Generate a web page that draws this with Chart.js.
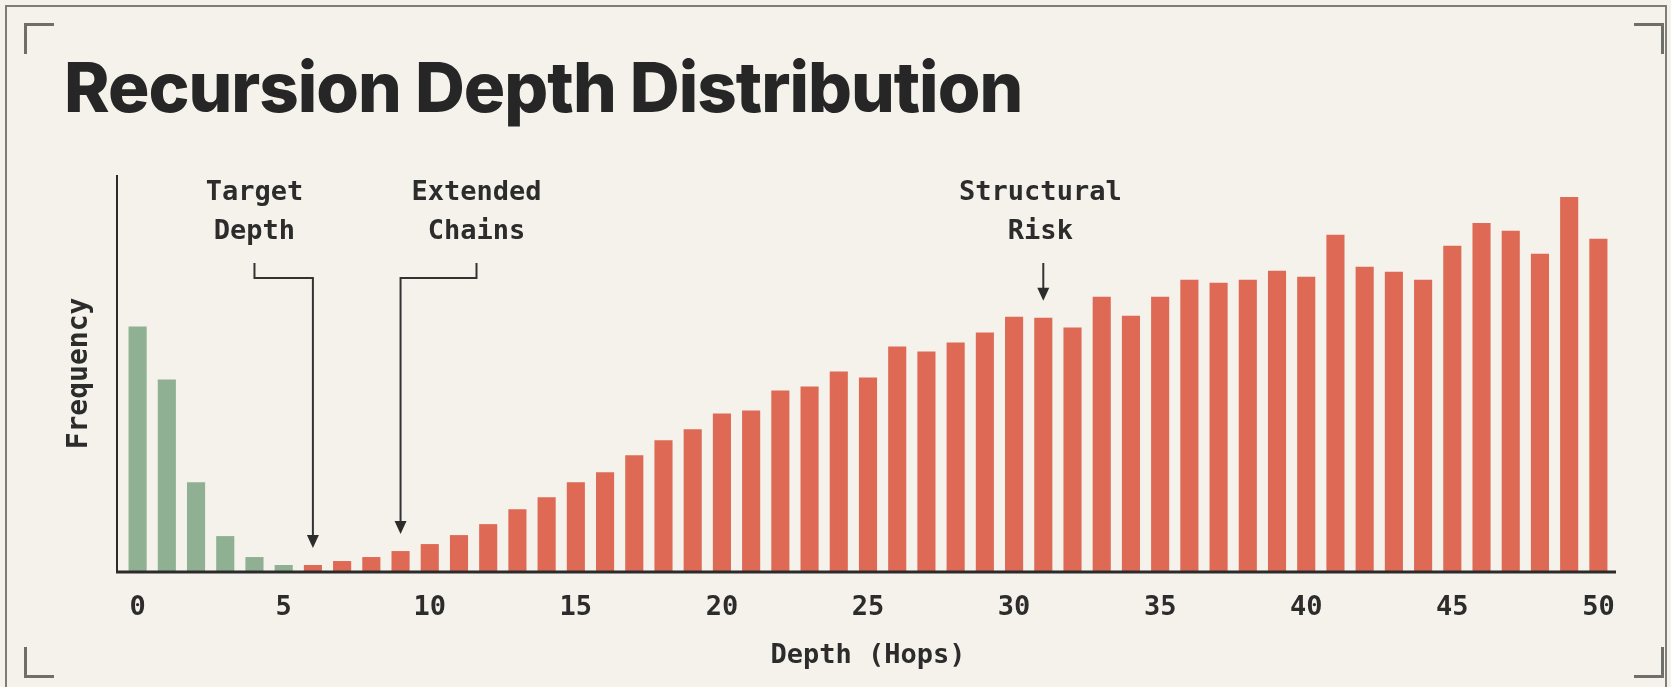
<!DOCTYPE html>
<html>
<head>
<meta charset="utf-8">
<script src="https://cdn.jsdelivr.net/npm/chart.js@4.4.1/dist/chart.umd.min.js"></script>
<style>
  html, body { margin: 0; padding: 0; background: #f4f2eb; }
  #wrap { position: relative; width: 1671px; height: 687px; overflow: hidden; }
  #frame { position: absolute; left: 5px; top: 5px; right: 4px; bottom: -10px;
           border-top: 2px solid #7c7c78; border-left: 2px solid #7c7c78; border-right: 2px solid #7c7c78; }
  .corner { position: absolute; width: 27px; height: 28px; border-color: #6e6e6a; border-style: solid; border-width: 0; }
  .tl { left: 24px; top: 23px; border-top-width: 3px; border-left-width: 3px; }
  .tr { left: 1634px; top: 23px; border-top-width: 3px; border-right-width: 3px; }
  .bl { left: 24px; top: 647px; border-bottom-width: 3px; border-left-width: 3px; }
  .br { left: 1634px; top: 647px; border-bottom-width: 3px; border-right-width: 3px; }
  h1 { position: absolute; left: 64px; top: 53px; margin: 0;
       font-family: Inter, "Liberation Sans", sans-serif; font-weight: 800;
       font-size: 69px; line-height: 69px; letter-spacing: -1px; color: #262626; }
  canvas { position: absolute; left: 0; top: 0; }
</style>
</head>
<body>
<div id="wrap">
  <div id="frame"></div>
  <div class="corner tl"></div><div class="corner tr"></div>
  <div class="corner bl"></div><div class="corner br"></div>
  <h1>Recursion Depth Distribution</h1>
  <canvas id="depthChart" width="1671" height="687"></canvas>
</div>
<script>
// depth in hops, 0..50
const depths = Array.from({ length: 51 }, (_, i) => String(i));
const frequency = [246, 193, 90, 36, 15, 7, 7, 11, 15, 21, 28, 37, 48, 63, 75, 90, 100, 117, 132, 143,
  159, 162, 182, 186, 201, 195, 226, 221, 230, 240, 256, 255, 245, 276, 257, 276, 293, 290, 293, 302,
  296, 338, 306, 301, 293, 327, 350, 342, 319, 376, 334];
const safeMaxDepth = 5;
const tickStep = 5;

// callouts: text centred at a category position, arrow pointing at a bar
const callouts = [
  { lines: ['Target', 'Depth'], textAt: 4, bar: 6, elbow: true },
  { lines: ['Extended', 'Chains'], textAt: 11.6, bar: 9, elbow: true },
  { lines: ['Structural', 'Risk'], textAt: 30.9, bar: 31, elbow: false }
];

const monoFont = "'DejaVu Sans Mono', monospace";
const ink = '#2c2c2c';

// axis lines sit a little left of the first bar, like the original
const axisPlugin = {
  id: 'axisLines',
  afterDatasetsDraw(chart) {
    const { ctx, chartArea } = chart;
    const x0 = chartArea.left - 6;
    ctx.save();
    ctx.strokeStyle = '#2b2b2b';
    ctx.lineWidth = 2;
    ctx.beginPath();
    ctx.moveTo(x0, chartArea.top);
    ctx.lineTo(x0, chartArea.bottom);
    ctx.stroke();
    ctx.lineWidth = 3;
    ctx.beginPath();
    ctx.moveTo(x0 - 1, chartArea.bottom);
    ctx.lineTo(chartArea.right + 3, chartArea.bottom);
    ctx.stroke();
    ctx.restore();
  }
};

const calloutPlugin = {
  id: 'callouts',
  afterDatasetsDraw(chart) {
    const { ctx, chartArea, scales } = chart;
    const x = scales.x, y = scales.y;
    ctx.save();
    ctx.fillStyle = ink;
    ctx.strokeStyle = '#333';
    ctx.lineWidth = 2;
    ctx.font = 'bold 27px ' + monoFont;
    ctx.textAlign = 'center';
    ctx.textBaseline = 'middle';
    callouts.forEach(c => {
      const tx = x.getPixelForValue(c.textAt);
      const bx = x.getPixelForValue(c.bar);
      const tipY = y.getPixelForValue(frequency[c.bar]) - 17;
      c.lines.forEach((line, i) => ctx.fillText(line, tx, chartArea.top + 18 + i * 39));
      const startY = chartArea.top + 88;
      ctx.beginPath();
      if (c.elbow) {
        const elbowY = chartArea.top + 103;
        ctx.moveTo(tx, startY);
        ctx.lineTo(tx, elbowY);
        ctx.lineTo(bx, elbowY);
        ctx.lineTo(bx, tipY - 10);
      } else {
        ctx.moveTo(bx, startY);
        ctx.lineTo(bx, tipY - 10);
      }
      ctx.stroke();
      ctx.beginPath();
      ctx.moveTo(bx, tipY);
      ctx.lineTo(bx - 6, tipY - 13);
      ctx.lineTo(bx + 6, tipY - 13);
      ctx.closePath();
      ctx.fill();
    });
    ctx.restore();
  }
};

new Chart(document.getElementById('depthChart'), {
  type: 'bar',
  data: {
    labels: depths,
    datasets: [{
      data: frequency,
      backgroundColor: depths.map((d, i) => i <= safeMaxDepth ? '#8fb092' : '#de6a55'),
      borderWidth: 0,
      barPercentage: 0.62,
      categoryPercentage: 1
    }]
  },
  options: {
    responsive: false,
    animation: false,
    layout: { padding: { top: 175, right: 58, left: 0, bottom: 0 } },
    plugins: { legend: { display: false }, tooltip: { enabled: false } },
    scales: {
      x: {
        grid: { display: false, drawTicks: false },
        border: { display: false },
        ticks: {
          autoSkip: false, maxRotation: 0, padding: 20, color: ink,
          font: { family: monoFont, size: 27, weight: 'bold' },
          callback: (v, i) => i % tickStep === 0 ? depths[i] : null
        },
        title: {
          display: true, text: 'Depth (Hops)', color: ink,
          font: { family: monoFont, size: 27, weight: 'bold' },
          padding: { top: 0, bottom: 15 }
        },
        afterFit: s => { s.height = 115; }
      },
      y: {
        min: 0, max: 398,
        grid: { display: false, drawTicks: false },
        border: { display: false },
        ticks: { display: false },
        title: {
          display: true, text: 'Frequency', color: ink,
          font: { family: monoFont, size: 28, weight: 'bold' },
          padding: { top: 63, bottom: 0 }
        },
        afterFit: s => { s.width = 123; }
      }
    }
  },
  plugins: [axisPlugin, calloutPlugin]
});
</script>
</body>
</html>
